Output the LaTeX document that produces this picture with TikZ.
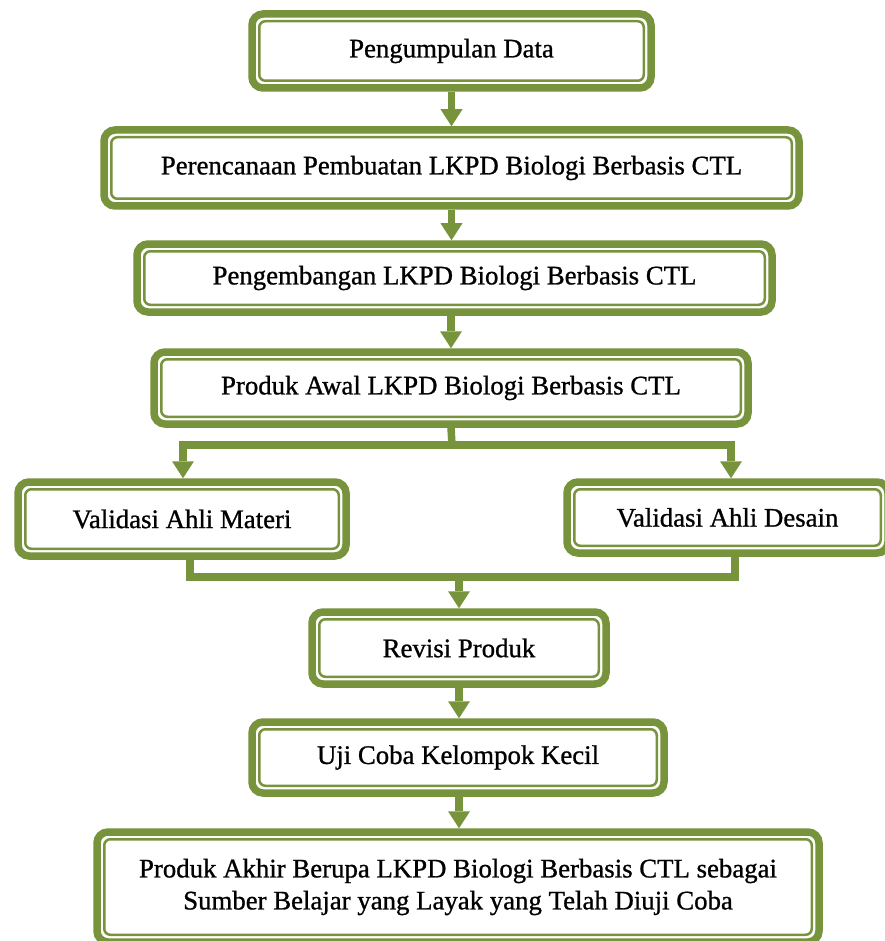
\documentclass[tikz,border=0pt]{standalone}
\usepackage{fontspec}
\setmainfont{Liberation Serif}
\newfontfamily\boxfont{Liberation Serif}[FakeBold=0.9]
\usetikzlibrary{arrows.meta}
\definecolor{olv}{HTML}{77933C}
\begin{document}
\begin{tikzpicture}[x=1pt,y=-1pt,
  box/.style={draw=olv, line width=7.5pt, rounded corners=11pt, fill=white, inner sep=0pt,
    font=\boxfont\fontsize{26.8}{32}\selectfont, align=center},
  frame/.style={draw=olv, line width=2.5pt, rounded corners=6pt},
  conn/.style={draw=olv, line width=7.5pt},
  arr/.style={conn, -{Triangle[width=22pt,length=17pt,line width=0pt]}}]
\useasboundingbox[fill=white] (0,0) rectangle (884,941);

\node[box, minimum width=399pt, minimum height=74pt] (b1) at (451.5,51) {Pengumpulan Data};
\node[box, minimum width=695pt, minimum height=76pt] (b2) at (451.5,168) {Perencanaan Pembuatan LKPD Biologi Berbasis CTL};
\node[box, minimum width=635pt, minimum height=68pt] (b3) at (454.5,278) {Pengembangan LKPD Biologi Berbasis CTL};
\node[box, minimum width=594pt, minimum height=72pt] (b4) at (451,388) {Produk Awal LKPD Biologi Berbasis CTL};
\node[box, minimum width=328pt, minimum height=74pt] (b5) at (182,519) {Validasi Ahli Materi};
\node[box, minimum width=321pt, minimum height=71pt] (b6) at (727.5,517.5) {Validasi Ahli Desain};
\node[box, minimum width=294pt, minimum height=72pt] (b7) at (459,648) {Revisi Produk};
\node[box, minimum width=412pt, minimum height=71pt] (b8) at (458,757.5) {Uji Coba Kelompok Kecil};
\node[box, minimum width=722pt, minimum height=110pt] (b9) at (458,887) {Produk Akhir Berupa LKPD Biologi Berbasis CTL sebagai\\Sumber Belajar yang Layak yang Telah Diuji Coba};

\foreach \n in {b1,b2,b3,b4,b5,b6,b7,b8,b9}
  \draw[frame] ([shift={(11,11)}]\n.north west) rectangle ([shift={(-11,-11)}]\n.south east);

\draw[arr] (b1.south) -- (b1.south |- b2.north);
\draw[arr] (b2.south) -- (b2.south |- b3.north);
\draw[arr] (b4.north |- b3.south) -- (b4.north);

\coordinate (j1) at (452,445);
\draw[conn] (b4.south) -- (j1);
\draw[arr] (j1) -| ([xshift=1pt]b5.north);
\draw[arr] (j1) -| ([xshift=3.5pt]b6.north);

\coordinate (j2) at (459,577);
\draw[conn] ([xshift=8pt]b5.south) |- (j2);
\draw[conn] ([xshift=7.5pt]b6.south) |- (j2);
\draw[arr] (j2) -- (b7.north);

\draw[arr] (b7.south) -- (b7.south |- b8.north);
\draw[arr] (b7.south |- b8.south) -- (b7.south |- b9.north);
\end{tikzpicture}
\end{document}
